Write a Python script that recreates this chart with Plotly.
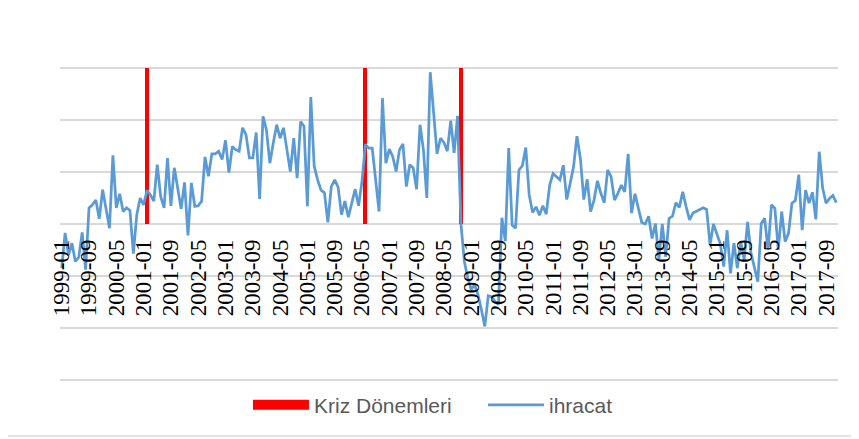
import plotly.graph_objects as go

# monthly categories 1999-01 .. 2017-12
MONTHS = [f"{y}-{m:02d}" for y in range(1999, 2018) for m in range(1, 13)]
TICK_LABELS = MONTHS[::8]

# ihracat (export growth)
IHRACAT = [
    -8.5, -1.7, -6.0, -3.7, -7.2, -6.4, -1.6, -8.8, 3.1, 3.7, 4.6, 1.0,
    6.6, 2.5, -0.8, 13.2, 3.1, 5.8, 2.4, 3.1, 2.6, -5.7, 1.8, 5.0,
    3.7, 6.5, 5.6, 4.4, 11.4, 5.3, 3.1, 12.7, 3.5, 10.8, 6.6, 2.9,
    8.0, -2.2, 7.9, 3.4, 3.5, 4.4, 12.9, 9.2, 13.5, 13.5, 14.0, 12.4,
    16.1, 9.9, 14.9, 14.3, 14.0, 18.5, 17.2, 12.7, 12.7, 17.6, 4.8, 20.7,
    18.1, 11.7, 15.6, 19.1, 16.5, 18.5, 14.3, 10.1, 16.5, 8.8, 19.7, 18.8,
    3.4, 24.4, 11.1, 8.5, 6.5, 6.0, 0.3, 7.2, 8.5, 7.1, 1.8, 4.4,
    1.3, 4.0, 6.7, 3.5, 8.2, 15.3, 14.6, 14.6, 7.9, 2.4, 24.2, 11.7,
    14.4, 13.0, 10.1, 14.3, 15.4, 7.2, 11.4, 10.8, 6.7, 19.1, 14.3, 5.0,
    29.2, 20.7, 13.5, 16.5, 15.7, 14.0, 19.9, 13.7, 20.8, 0.0, -7.2, -10.4,
    -12.6, -11.7, -13.6, -16.5, -19.7, -13.8, -14.0, -14.9, -15.5, 1.2, -3.3, 14.6,
    -0.2, -0.8, 10.4, 11.2, 14.7, 5.6, 2.2, 3.3, 1.7, 3.5, 1.9, 7.5,
    9.7, 9.1, 8.5, 11.3, 4.7, 7.8, 11.0, 16.9, 12.6, 4.7, 8.6, 2.4,
    4.6, 8.3, 5.9, 4.1, 10.4, 9.1, 4.6, 5.9, 7.5, 6.2, 13.5, 2.1,
    5.8, 3.0, 0.3, 0.0, 1.5, -2.8, 0.1, -6.9, 0.0, -6.3, 1.1, 1.5,
    4.1, 3.2, 6.2, 3.3, 0.8, 2.1, 2.4, 2.7, 3.1, 2.8, -4.0, 0.0,
    -1.8, -3.8, -8.2, -1.2, -9.5, -3.7, -8.5, -3.4, -6.9, 0.4, -5.6, -8.2,
    -11.1, 0.1, 1.1, -5.0, 3.7, 3.0, -5.0, 2.4, -3.4, -1.8, 4.0, 4.5,
    9.5, -1.2, 6.5, 4.0, 6.1, 0.9, 13.9, 6.9, 4.0, 4.9, 5.5, 4.1,
]

# crisis months (Kriz Dönemleri), drawn as full-height bars
KRIZ_MONTHS = ["2001-02", "2006-06", "2008-10"]
KRIZ_VALUES = [30, 30, 30]

RED = "#FF0000"
BLUE = "#5B9BD5"
GRID = "#D9D9D9"

fig = go.Figure()
fig.add_trace(go.Bar(
    x=KRIZ_MONTHS, y=KRIZ_VALUES, width=1.2,
    marker=dict(color=RED, line=dict(width=0)),
    showlegend=False,
))
# legend-only stand-in so the red key is a wide block like Excel's
fig.add_trace(go.Scatter(
    x=[None], y=[None], mode="lines", name="Kriz Dönemleri",
    line=dict(color=RED, width=16),
))
fig.add_trace(go.Scatter(
    x=MONTHS, y=IHRACAT, mode="lines", name="ihracat",
    line=dict(color=BLUE, width=2.75),
))

fig.update_xaxes(
    type="category", categoryorder="array", categoryarray=MONTHS,
    range=[-0.5, len(MONTHS) - 0.5],
    tickmode="array", tickvals=TICK_LABELS, ticktext=TICK_LABELS,
    tickangle=-90, ticklabelstandoff=10,
    tickfont=dict(family="Liberation Serif, Times New Roman, serif", size=23, color="#000000"),
    showgrid=False, showline=False, zeroline=False,
    anchor="free", position=0.5,
)
fig.update_yaxes(
    range=[-30.2, 30.2], dtick=10, showticklabels=False,
    showgrid=True, gridcolor=GRID, gridwidth=1.5, zeroline=False,
)

# outer chart border (right and bottom edges visible in the crop)
fig.add_shape(type="line", xref="paper", yref="paper",
              x0=1.018, x1=1.018, y0=-0.175, y1=1.3,
              line=dict(color=GRID, width=1.5))
fig.add_shape(type="line", xref="paper", yref="paper",
              x0=-0.2, x1=1.018, y0=-0.175, y1=-0.175,
              line=dict(color=GRID, width=1.5))

# the page body has an 8px margin, so size/margins are shifted by that
fig.update_layout(
    width=851, height=431,
    margin=dict(l=52, r=21, t=59, b=58, autoexpand=False),
    paper_bgcolor="white", plot_bgcolor="white",
    bargap=0,
    legend=dict(
        orientation="h", x=0.2416, y=-0.077, xanchor="left", yanchor="middle",
        font=dict(family="Liberation Sans", size=21, color="#595959"),
        itemwidth=56, entrywidth=164, entrywidthmode="pixels",
    ),
)

fig.write_html("out.html")
